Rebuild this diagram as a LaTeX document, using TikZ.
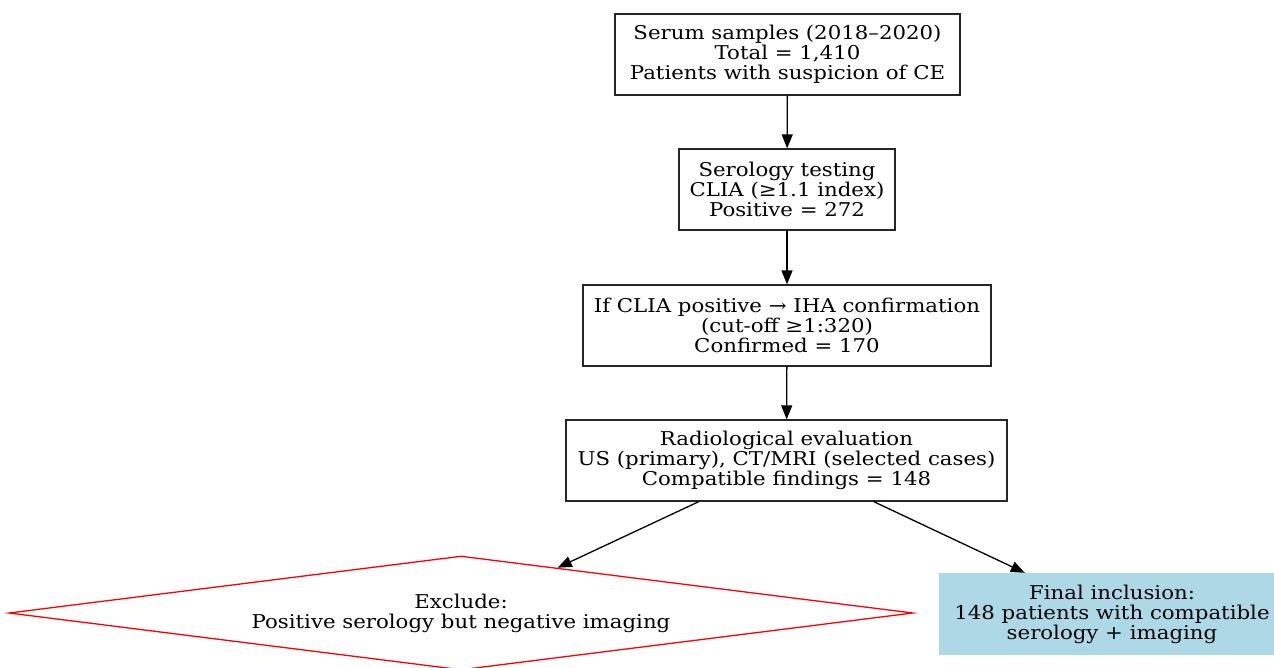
\documentclass[tikz,border=0pt]{standalone}
\usepackage{fontspec}
\setmainfont{DejaVu Serif}[FakeStretch=1.12]
\usetikzlibrary{shapes.geometric,arrows.meta}
\tikzset{
  txt/.style={font=\fontsize{19}{20}\selectfont},
  box/.style={txt, draw=black!85, line width=1.3pt, rectangle, align=center, minimum height=81pt, inner sep=0pt},
  excl/.style={txt, draw=red, line width=1.3pt, shape=diamond, aspect=7.9, minimum width=904pt, minimum height=114pt,
    inner sep=0pt, align=center},
  final/.style={txt, fill={rgb,255:red,173;green,216;blue,230}, rectangle, align=center, minimum width=346pt,
    minimum height=82pt, inner sep=0pt},
  edge/.style={draw=black, line width=1.3pt, -{Triangle[length=14pt,width=11pt]}}
}
\begin{document}
\begin{tikzpicture}[x=1pt,y=-1pt]
\useasboundingbox (0,0) rectangle (1274,667);
\node[box, minimum width=345pt] (n1) at (787.5,54.5) {Serum samples (2018–2020)\\Total = 1,410\\Patients with suspicion of CE};
\node[box, minimum width=216pt] (n2) at (787,189.5) {Serology testing\\CLIA (≥1.1 index)\\Positive = 272};
\node[box, minimum width=408pt] (n3) at (787,325.5) {If CLIA positive → IHA confirmation\\(cut-off ≥1:320)\\Confirmed = 170};
\node[box, minimum width=441pt] (n4) at (786.5,460.5) {Radiological evaluation\\US (primary), CT/MRI (selected cases)\\Compatible findings = 148};
\node[excl] (ex) at (461,613) {Exclude:\\Positive serology but negative imaging};
\node[final] (fin) at (1112,614) {Final inclusion:\\148 patients with compatible\\serology + imaging};
\draw[edge] (n1) -- (n2);
\draw[edge] (n2) -- (n3);
\draw[edge] (n3) -- (n4);
\draw[edge] (n4) -- (ex);
\draw[edge] (n4) -- (fin);
\end{tikzpicture}
\end{document}
